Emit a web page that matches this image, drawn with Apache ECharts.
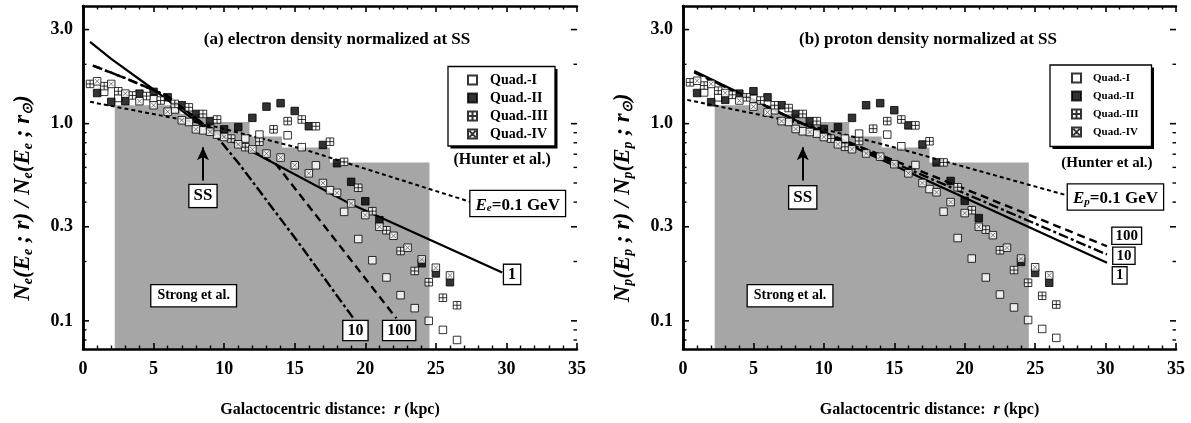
<!DOCTYPE html>
<html><head><meta charset="utf-8">
<script src="https://cdn.jsdelivr.net/npm/echarts@6/dist/echarts.min.js"></script>
<style>html,body{margin:0;padding:0;background:#fff}#c{width:1191px;height:423px}</style>
</head><body><div id="c"></div>
<script>
const FONT = '"Liberation Serif","Times New Roman",serif';

// ---------- tick labels ----------
const xTickLabels = ['0','5','10','15','20','25','30','35'];
const yMajorTicks = [0.1, 0.3, 1, 3];
const yMajorLabels = ['0.1','0.3','1.0','3.0'];
const yMinorTicks = [0.08, 0.09, 0.2, 0.4, 0.5, 0.6, 0.7, 0.8, 0.9, 2];

// ---------- panel (a): electrons ----------
const quadI_a = [[1.5,1.45],[2.5,1.35],[5,1.34],[6.5,1.18],[7.5,1.02],[8.5,0.925],[9.5,0.88],[11.5,0.84],[12.5,0.88],[14.5,0.873],[15.5,0.76],[16.5,0.615],[17.5,0.46],[18.5,0.357],[19.5,0.26],[20.5,0.203],[21.5,0.166],[22.5,0.135],[23.5,0.116],[24.5,0.10],[25.5,0.09],[26.5,0.08]];
const quadII_a = [[1,1.43],[2,1.29],[3,1.30],[4,1.42],[5,1.45],[6,1.36],[7,1.24],[8,1.12],[9,1.03],[10,0.936],[11,0.96],[12,1.07],[13,1.22],[14,1.27],[15,1.16],[16,0.97],[17,0.78],[18,0.63],[19,0.507],[20,0.404],[21,0.324],[24,0.196],[25,0.174],[26,0.157]];
const quadIII_a = [[0.5,1.59],[1.5,1.55],[2.5,1.46],[3.5,1.39],[4.5,1.38],[5.5,1.31],[6.5,1.26],[7.5,1.21],[8.5,1.12],[9.5,1.05],[10.5,0.84],[11.5,0.76],[12.5,0.81],[13.5,0.936],[14.5,1.03],[15.5,1.05],[16.5,0.97],[17.5,0.81],[18.5,0.64],[19.5,0.473],[20.5,0.36],[21.5,0.288],[22.5,0.226],[23.5,0.179],[24.5,0.157],[25.5,0.131],[26.5,0.12]];
const quadIV_a = [[1,1.64],[2,1.59],[3,1.42],[4,1.30],[5,1.24],[6,1.15],[7,1.04],[8,0.936],[9,0.91],[10,0.856],[11,0.786],[12,0.74],[13,0.705],[14,0.673],[15,0.615],[16,0.56],[17,0.50],[18,0.446],[19,0.394],[20,0.344],[21,0.30],[22,0.27],[23,0.235],[24,0.205],[25,0.186],[26,0.17]];
const lineOne_a = [[0.5,2.6],[2,2.13],[5,1.49],[8.5,0.97],[11.8,0.733],[18.7,0.40],[29.7,0.176]];
const lineTen_a = [[0.7,1.97],[3,1.7],[5.9,1.39],[8.5,1.0],[9.7,0.824],[11.1,0.62],[15.4,0.242],[19.2,0.102]];
const lineHundred_a = [[0.7,1.97],[3,1.7],[5.9,1.39],[8.5,1.0],[11,0.8],[13.7,0.62],[18.9,0.207],[22.2,0.103]];
const lineE_a = [[0.5,1.29],[8.5,1.0],[15.4,0.75],[27.5,0.40]];

// ---------- panel (b): protons ----------
const quadI_b = [[1.5,1.44],[2.5,1.36],[5,1.34],[6.5,1.17],[7.5,1.02],[8.5,0.915],[9.5,0.89],[11.5,0.84],[12.5,0.89],[14.5,0.88],[15.5,0.768],[16.5,0.617],[17.5,0.466],[18.5,0.358],[19.5,0.263],[20.5,0.207],[21.5,0.166],[22.5,0.136],[23.5,0.117],[24.5,0.101],[25.5,0.091],[26.5,0.082]];
const quadII_b = [[1,1.43],[2,1.285],[3,1.32],[4,1.42],[5,1.46],[6,1.36],[7,1.24],[8,1.12],[9,1.03],[10,0.94],[11,0.96],[12,1.07],[13,1.24],[14,1.27],[15,1.17],[16,0.98],[17,0.784],[18,0.636],[19,0.512],[20,0.406],[21,0.332],[24,0.199],[25,0.175],[26,0.156]];
const quadIII_b = [[0.5,1.62],[1.5,1.56],[2.5,1.47],[3.5,1.40],[4.5,1.36],[5.5,1.31],[6.5,1.24],[7.5,1.2],[8.5,1.12],[9.5,1.03],[10.5,0.84],[11.5,0.763],[12.5,0.817],[13.5,0.943],[14.5,1.03],[15.5,1.05],[16.5,0.98],[17.5,0.814],[18.5,0.636],[19.5,0.476],[20.5,0.364],[21.5,0.29],[22.5,0.228],[23.5,0.181],[24.5,0.156],[25.5,0.134],[26.5,0.121]];
const quadIV_b = [[1,1.65],[2,1.59],[3,1.43],[4,1.31],[5,1.22],[6,1.14],[7,1.03],[8,0.94],[9,0.907],[10,0.856],[11,0.786],[12,0.742],[13,0.706],[14,0.68],[15,0.623],[16,0.56],[17,0.50],[18,0.449],[19,0.40],[20,0.352],[21,0.30],[22,0.272],[23,0.235],[24,0.207],[25,0.187],[26,0.17]];
const lineOne_b = [[0.8,1.85],[8.5,1.0],[30.1,0.197]];
const lineTen_b = [[0.8,1.83],[8.5,1.0],[30.1,0.217]];
const lineHundred_b = [[0.8,1.82],[8.5,1.0],[30.1,0.239]];
const lineE_b = [[0.3,1.32],[8.5,1.0],[15.4,0.745],[27.4,0.43]];

// ---------- Strong et al. shaded steps (shared) ----------
const strongSteps = [[2.25,1.24],[6.9,1.12],[8.75,1.02],[11.8,0.86],[14.1,0.756],[17.5,0.635],[24.55,0.635]];

const quadNames = ['Quad.-I','Quad.-II','Quad.-III','Quad.-IV'];
const SYM_SQ = 'path://M0,0H10V10H0Z';
const SYM_PLUS = 'path://M0,0H10V10H0Z M5,0V10 M0,5H10';
const SYM_X = 'path://M0,0H10V10H0Z M1.5,1.5L8.5,8.5 M8.5,1.5L1.5,8.5';
const SYM_XONLY = 'path://M0,0L10,10 M10,0L0,10';

const Y_MIN = 0.072, Y_MAX = 3.95;
const grids = [
  {left: 83, top: 6, width: 494, height: 345},
  {left: 683, top: 6, width: 493, height: 345}
];

function xAxisPair(gi) {
  const base = {
    gridIndex: gi, type: 'value', min: 0, max: 35, interval: 5, z: 5,
    axisLine: {show: true, lineStyle: {color: '#000', width: 2.5}},
    axisTick: {show: true, inside: true, length: 6, lineStyle: {color: '#000', width: 1.6}},
    minorTick: {show: true, splitNumber: 5, length: 3.5, lineStyle: {color: '#000', width: 1.4}},
    splitLine: {show: false}
  };
  const bottom = Object.assign({}, base, {
    position: 'bottom',
    axisLabel: {color: '#000', fontFamily: FONT, fontWeight: 'bold', fontSize: 18, margin: 11,
      formatter: v => xTickLabels[Math.round(v / 5)]},
    name: '{b|Galactocentric distance:  }{i|r}{b| (kpc)}',
    nameLocation: 'middle', nameGap: 53,
    nameTextStyle: {rich: {
      b: {fontFamily: FONT, fontWeight: 'bold', fontSize: 16, color: '#000'},
      i: {fontFamily: FONT, fontWeight: 'bold', fontStyle: 'italic', fontSize: 16, color: '#000'}
    }}
  });
  const top = Object.assign({}, base, {position: 'top', axisLabel: {show: false}});
  return [bottom, top];
}
function yAxisPair(gi) {
  const base = {
    gridIndex: gi, type: 'log', logBase: 10, min: Y_MIN, max: Y_MAX, z: 5,
    axisLine: {show: true, lineStyle: {color: '#000', width: 2.5}},
    axisTick: {show: false}, minorTick: {show: false}, axisLabel: {show: false}, splitLine: {show: false}
  };
  return [Object.assign({}, base, {position: 'left'}), Object.assign({}, base, {position: 'right'})];
}

const tickData = yMajorTicks.map(v => [0, v, 1]).concat(yMinorTicks.map(v => [0, v, 0]));
function tickSeries(gi) {
  return {
    type: 'custom', xAxisIndex: gi * 2, yAxisIndex: gi * 2, clip: false, silent: true, z: 10,
    data: tickData, encode: {x: 0, y: 1},
    renderItem: function (params, api) {
      const v = api.value(1), major = api.value(2) === 1;
      const L = api.coord([0, v]), R = api.coord([35, v]);
      const len = major ? 6 : 3.5, w = major ? 1.6 : 1.4;
      const ch = [
        {type: 'line', shape: {x1: L[0], y1: L[1], x2: L[0] + len, y2: L[1]}, style: {stroke: '#000', lineWidth: w}},
        {type: 'line', shape: {x1: R[0] - len, y1: R[1], x2: R[0], y2: R[1]}, style: {stroke: '#000', lineWidth: w}}
      ];
      if (major) {
        ch.push({type: 'text', x: L[0] - 10, y: L[1], style: {text: yMajorLabels[params.dataIndex], align: 'right', verticalAlign: 'middle',
          fontFamily: FONT, fontWeight: 'bold', fontSize: 18, fill: '#000'}});
      }
      return {type: 'group', children: ch};
    }
  };
}

function panelSeries(gi, quads, lines, arrow) {
  const xi = gi * 2, yi = gi * 2;
  const out = [];
  out.push({type: 'line', xAxisIndex: xi, yAxisIndex: yi, data: strongSteps, step: 'end', symbol: 'none', silent: true, z: 1,
    lineStyle: {width: 0, color: '#a6a6a6'}, areaStyle: {color: '#a6a6a6', opacity: 1, origin: 'start'}});
  const styles = [
    {arr: [4, 3], width: 2},
    {arr: 'solid', width: 2.2},
    {arr: [10, 3, 3, 3], width: 2.4},
    {arr: [8, 5], width: 2.4}
  ];
  lines.forEach((d, k) => {
    const st = styles[k];
    const s = {type: 'line', xAxisIndex: xi, yAxisIndex: yi, data: d, symbol: 'none', smooth: false, silent: true, z: 2,
      lineStyle: {color: '#000', width: st.width, type: st.arr, join: 'round'}};
    if (k === 1) {
      s.markLine = {silent: true, symbol: ['none', 'arrow'], symbolSize: [9, 13], label: {show: false},
        lineStyle: {color: '#000', width: 2, type: 'solid'},
        data: [[{coord: arrow[0]}, {coord: arrow[1]}]]};
    }
    out.push(s);
  });
  const syms = [SYM_SQ, SYM_SQ, SYM_PLUS, SYM_SQ];
  const fills = ['#fff', '#000', '#fff', '#fff'];
  quads.forEach((d, k) => {
    out.push({type: 'scatter', name: quadNames[k], xAxisIndex: xi, yAxisIndex: yi, data: d, symbol: syms[k], symbolSize: 7.5, z: 3,
      itemStyle: {color: fills[k], borderColor: '#000', borderWidth: 1}});
  });
  // grey cross inside the Quad.-IV squares
  out.push({type: 'scatter', name: 'Quad.-IV cross', xAxisIndex: xi, yAxisIndex: yi, data: quads[3], symbol: SYM_XONLY, symbolSize: 4.6, z: 4, silent: true,
    itemStyle: {color: '#fff', borderColor: '#666', borderWidth: 1}});
  out.push(tickSeries(gi));
  return out;
}

const arrowPts = [[8.5, 0.515], [8.5, 0.76]];
const [xa0, xa1] = xAxisPair(0), [xb0, xb1] = xAxisPair(1);
const [ya0, ya1] = yAxisPair(0), [yb0, yb1] = yAxisPair(1);

function legendCfg(left, top, fs, padL, txtPad) {
  return {
    left: left, top: top, orient: 'vertical', selectedMode: false, z: 6,
    data: [{name: 'Quad.-I'}, {name: 'Quad.-II'}, {name: 'Quad.-III'}, {name: 'Quad.-IV', icon: SYM_X}],
    itemWidth: 9, itemHeight: 9, itemGap: 4,
    padding: [6, 8, 6, padL],
    backgroundColor: 'transparent', borderWidth: 0,
    textStyle: {fontFamily: FONT, fontWeight: 'bold', fontSize: fs, color: '#000', lineHeight: 14, padding: [0, 0, 0, txtPad]}
  };
}

const chart = echarts.init(document.getElementById('c'), null, {renderer: 'canvas'});
chart.setOption({
  animation: false,
  backgroundColor: '#fff',
  grid: grids,
  xAxis: [xa0, xa1, xb0, xb1],
  yAxis: [ya0, ya1, yb0, yb1],
  legend: [legendCfg(448, 67, 14, 19, 8), legendCfg(1050, 65, 11, 21, 7)],
  series: [].concat(
    panelSeries(0, [quadI_a, quadII_a, quadIII_a, quadIV_a], [lineE_a, lineOne_a, lineTen_a, lineHundred_a], arrowPts),
    panelSeries(1, [quadI_b, quadII_b, quadIII_b, quadIV_b], [lineE_b, lineOne_b, lineTen_b, lineHundred_b], arrowPts)
  )
});

// ---------- annotations placed in data coordinates ----------
function px(gi, r, v) { return chart.convertToPixel({xAxisIndex: gi * 2, yAxisIndex: gi * 2}, [r, v]); }
function sub(fs) {
  return {
    i: {fontFamily: FONT, fontWeight: 'bold', fontStyle: 'italic', fontSize: fs, verticalAlign: 'bottom', lineHeight: fs + 3, fill: '#000'},
    s: {fontFamily: FONT, fontWeight: 'bold', fontStyle: 'italic', fontSize: Math.round(fs * 0.62), verticalAlign: 'bottom', lineHeight: Math.round(fs * 0.62), fill: '#000'},
    b: {fontFamily: FONT, fontWeight: 'bold', fontSize: fs, verticalAlign: 'bottom', lineHeight: fs + 3, fill: '#000'}
  };
}
function boxed(gi, r, v, text, fs, rich, pad) {
  const p = px(gi, r, v);
  const st = {text: text, align: 'center', verticalAlign: 'middle', fontFamily: FONT, fontWeight: 'bold', fontSize: fs, fill: '#000',
    backgroundColor: '#fff', borderColor: '#000', borderWidth: 1.3, padding: pad || [2, 4, 1, 4]};
  if (rich) st.rich = rich;
  return {type: 'text', x: p[0], y: p[1], z: 20, style: st};
}
function plain(gi, r, v, text, fs) {
  const p = px(gi, r, v);
  return {type: 'text', x: p[0], y: p[1], z: 20, style: {text: text, align: 'center', verticalAlign: 'middle', fontFamily: FONT, fontWeight: 'bold', fontSize: fs, fill: '#000'}};
}
function legendFrame(x, y, w, h) {
  return [
    {type: 'rect', z: 4, silent: true, shape: {x: x + 2.5, y: y + 2.5, width: w, height: h}, style: {fill: '#000'}},
    {type: 'rect', z: 5, silent: true, shape: {x: x, y: y, width: w, height: h}, style: {fill: '#fff', stroke: '#000', lineWidth: 1.3}}
  ];
}
const titleA = '(a) electron density normalized at SS';
const titleB = '(b) proton density normalized at SS';
const g = [].concat(
  legendFrame(448, 66.5, 107, 79.5),
  legendFrame(1050, 65, 101.5, 81.5),
  [
  {type: 'text', x: 337, y: 40, z: 20, style: {text: titleA, align: 'center', verticalAlign: 'middle', fontFamily: FONT, fontWeight: 'bold', fontSize: 17, fill: '#000'}},
  {type: 'text', x: 928, y: 40, z: 20, style: {text: titleB, align: 'center', verticalAlign: 'middle', fontFamily: FONT, fontWeight: 'bold', fontSize: 17, fill: '#000'}},
  {type: 'text', x: 22, y: 198, rotation: Math.PI / 2, z: 20, style: {text: '{i|N}{s|e}{i|(E}{s|e}{i| ; r) / N}{s|e}{i|(E}{s|e}{i| ; r}{s|⊙}{i|)}', align: 'center', verticalAlign: 'middle', rich: sub(23)}},
  {type: 'text', x: 622, y: 198, rotation: Math.PI / 2, z: 20, style: {text: '{i|N}{s|p}{i|(E}{s|p}{i| ; r) / N}{s|p}{i|(E}{s|p}{i| ; r}{s|⊙}{i|)}', align: 'center', verticalAlign: 'middle', rich: sub(23)}},
  // panel (a)
  boxed(0, 30.4, 0.172, '1', 16),
  boxed(0, 19.3, 0.0893, '10', 16),
  boxed(0, 22.4, 0.0893, '100', 16),
  boxed(0, 30.8, 0.394, '{i|E}{s|e}{b|=0.1 GeV}', 16, sub(17), [3, 5, 2, 5]),
  plain(0, 29.7, 0.657, '(Hunter et al.)', 16),
  boxed(0, 8.5, 0.43, 'SS', 17, null, [3, 4, 2, 4]),
  boxed(0, 7.84, 0.134, 'Strong et al.', 14, null, [4, 6, 3, 6]),
  // panel (b)
  boxed(1, 31.0, 0.17, '1', 15, null, [1, 3, 0, 3]),
  boxed(1, 31.3, 0.214, '10', 15, null, [1, 3, 0, 3]),
  boxed(1, 31.5, 0.27, '100', 15, null, [1, 3, 0, 3]),
  boxed(1, 30.7, 0.425, '{i|E}{s|p}{b|=0.1 GeV}', 16, sub(17), [3, 5, 2, 5]),
  plain(1, 30.1, 0.634, '(Hunter et al.)', 15),
  boxed(1, 8.5, 0.423, 'SS', 17, null, [3, 4, 2, 4]),
  boxed(1, 7.6, 0.134, 'Strong et al.', 14, null, [4, 6, 3, 6])
]);
chart.setOption({graphic: g});
</script>
</body></html>
